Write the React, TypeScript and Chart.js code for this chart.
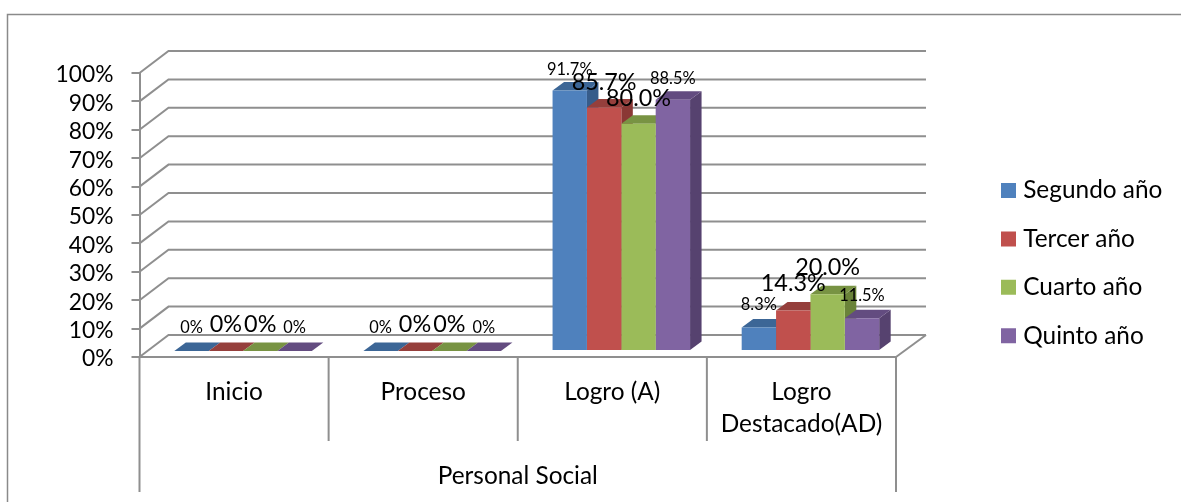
import React, { useEffect, useRef } from "react";
import { Chart, registerables } from "chart.js";

Chart.register(...registerables);

const categories: (string | string[])[] = ["Inicio", "Proceso", "Logro (A)", ["Logro", "Destacado(AD)"]];
const groupTitle = "Personal Social";
const seriesNames = ["Segundo año", "Tercer año", "Cuarto año", "Quinto año"];
const segundo = [0, 0, 91.7, 8.3];
const tercer = [0, 0, 85.7, 14.3];
const cuarto = [0, 0, 80.0, 20.0];
const quinto = [0, 0, 88.5, 11.5];
const seriesValues = [segundo, tercer, cuarto, quinto];
const frontColors = ["#4F81BD", "#C0504D", "#9BBB59", "#8064A2"];
const topColors = ["#3C6696", "#953F3C", "#789343", "#634C80"];
const sideColors = ["#375C8A", "#8A3835", "#6A8339", "#56426F"];
const labelSizes = [16.4, 23.4, 23.4, 16.4];
const labelRise = [23, 27, 27, 23];
const categoryLabelDrop = [0, 0, 2, 0];

const FONT = "Lato";
const LINE = "#8f8f8f";
const BAR_SHIFT = { x: 9, y: -6 };
const BAR_DEPTH = { x: 11.5, y: -8.5 };
const WALL = { x: 29, y: -22 };

const scene = {
  id: "scene3d",
  beforeDraw(chart: any) {
    const { ctx, scales, legend } = chart;
    const x = scales.x;
    const y = scales.y;
    legend.left = 982;
    legend.top = 154.3;
    legend.right = 1181;
    legend.bottom = 502;

    ctx.save();
    ctx.fillStyle = "#fff";
    ctx.fillRect(0, 0, chart.width, chart.height);
    ctx.strokeStyle = "#8a8a8a";
    ctx.lineWidth = 1.5;
    ctx.beginPath();
    ctx.moveTo(7.5, 502);
    ctx.lineTo(7.5, 14.5);
    ctx.lineTo(1181, 14.5);
    ctx.stroke();

    ctx.strokeStyle = LINE;
    ctx.lineWidth = 2;
    y.ticks.forEach((t: any) => {
      const py = y.getPixelForValue(t.value);
      ctx.beginPath();
      ctx.moveTo(x.left, py);
      ctx.lineTo(x.left + WALL.x, py + WALL.y);
      ctx.lineTo(x.right + WALL.x + 1, py + WALL.y);
      ctx.stroke();
    });
    // right edge of the floor
    ctx.beginPath();
    ctx.moveTo(x.right, y.bottom);
    ctx.lineTo(x.right + WALL.x + 1, y.bottom + WALL.y);
    ctx.stroke();
    // multi-level category separators
    categories.concat([""]).forEach((_, i) => {
      const px = x.getPixelForValue(i - 0.5);
      const outer = i === 0 || i === categories.length;
      ctx.beginPath();
      ctx.moveTo(px, y.bottom);
      ctx.lineTo(px, outer ? 492 : 441);
      ctx.stroke();
    });
    ctx.restore();
  },
  beforeDatasetsDraw(chart: any) {
    const { ctx } = chart;
    ctx.save();
    ctx.translate(BAR_SHIFT.x, BAR_SHIFT.y);
    categories.forEach((_, c) => {
      seriesValues.forEach((__, s) => {
        const bar = chart.getDatasetMeta(s).data[c];
        const l = bar.x - bar.width / 2;
        const r = bar.x + bar.width / 2;
        const t = bar.y;
        const b = bar.base;
        ctx.fillStyle = sideColors[s];
        ctx.beginPath();
        ctx.moveTo(r, t);
        ctx.lineTo(r + BAR_DEPTH.x, t + BAR_DEPTH.y);
        ctx.lineTo(r + BAR_DEPTH.x, b + BAR_DEPTH.y);
        ctx.lineTo(r, b);
        ctx.closePath();
        ctx.fill();
        ctx.fillStyle = topColors[s];
        ctx.beginPath();
        ctx.moveTo(l, t);
        ctx.lineTo(l + BAR_DEPTH.x, t + BAR_DEPTH.y);
        ctx.lineTo(r + BAR_DEPTH.x, t + BAR_DEPTH.y);
        ctx.lineTo(r, t);
        ctx.closePath();
        ctx.fill();
      });
    });
  },
  afterDatasetsDraw(chart: any) {
    const { ctx } = chart;
    ctx.restore();
    ctx.save();
    ctx.fillStyle = "#000";
    ctx.textAlign = "center";
    ctx.textBaseline = "middle";
    seriesValues.forEach((vals, s) => {
      const meta = chart.getDatasetMeta(s);
      ctx.font = `${labelSizes[s]}px ${FONT}`;
      vals.forEach((v, c) => {
        const bar = meta.data[c];
        const text = v === 0 ? "0%" : `${v.toFixed(1)}%`;
        ctx.fillText(text, bar.x + BAR_SHIFT.x, bar.y + BAR_SHIFT.y - labelRise[s] + categoryLabelDrop[c]);
      });
    });
    ctx.restore();
  },
};

export default function App() {
  const ref = useRef<HTMLCanvasElement>(null);
  useEffect(() => {
    const chart = new Chart(ref.current as HTMLCanvasElement, {
      type: "bar",
      data: {
        labels: categories as any,
        datasets: seriesNames.map((name, i) => ({
          label: name,
          data: seriesValues[i],
          backgroundColor: frontColors[i],
          borderWidth: 0,
          barPercentage: 1,
          categoryPercentage: 0.727,
          clip: false as any,
        })),
      },
      options: {
        animation: false,
        responsive: false,
        layout: { padding: { left: 0, top: 73, right: 285, bottom: 0 } },
        plugins: {
          tooltip: { enabled: false },
          legend: {
            position: "chartArea" as any,
            align: "start",
            labels: {
              boxWidth: 5,
              boxHeight: 5,
              padding: 24,
              color: "#000",
              font: { family: FONT, size: 24.4 },
              // a thick same-coloured outline makes the 15px swatch sit close to its text
              generateLabels: (c: any) =>
                (Chart.defaults.plugins.legend.labels as any).generateLabels(c).map((item: any) => ({
                  ...item,
                  lineWidth: 10,
                  strokeStyle: item.fillStyle,
                })),
            },
          },
        },
        scales: {
          x: {
            afterFit: (s: any) => {
              s.height = 145;
            },
            offset: true,
            border: { display: true, color: LINE, width: 2 },
            grid: { display: false, drawTicks: false },
            ticks: {
              autoSkip: false,
              maxRotation: 0,
              padding: 19,
              color: "#000",
              font: { family: FONT, size: 24.4, lineHeight: 32 / 24.4 },
            },
            title: {
              display: true,
              text: groupTitle,
              color: "#000",
              padding: { top: 0, bottom: 11.5 },
              font: { family: FONT, size: 24.4 },
            },
          },
          y: {
            min: 0,
            max: 100,
            afterFit: (s: any) => {
              s.width = 139.5;
            },
            border: { display: true, color: LINE, width: 2 },
            grid: { drawOnChartArea: false, drawTicks: true, tickLength: 8, color: LINE, lineWidth: 2 },
            ticks: {
              autoSkip: false,
              stepSize: 10,
              padding: 18,
              labelOffset: 2,
              color: "#000",
              font: { family: FONT, size: 22.8 },
              callback: (v: any) => `${v}%`,
            },
          },
        },
      },
      plugins: [scene],
    });
    return () => chart.destroy();
  }, []);
  return (
    <canvas
      ref={ref}
      width={1181}
      height={502}
      style={{ position: "fixed", left: 0, top: 0, width: 1181, height: 502 }}
    />
  );
}
